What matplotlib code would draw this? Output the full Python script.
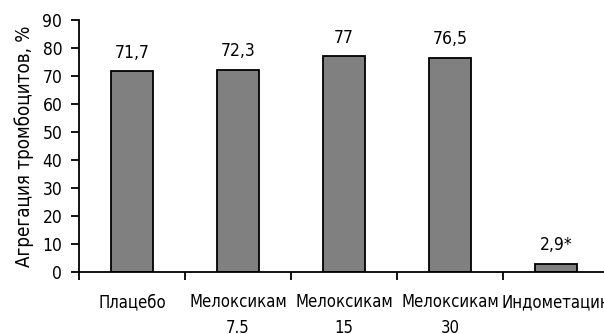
import matplotlib
matplotlib.use('Agg')
import matplotlib.pyplot as plt
import numpy as np

plt.rcParams['font.family'] = ['DejaVu Sans']
plt.rcParams['font.stretch'] = 'condensed'

groups = ['Плацебо', 'Мелоксикам\n7.5', 'Мелоксикам\n15', 'Мелоксикам\n30', 'Индометацин']
values = [71.7, 72.3, 77.0, 76.5, 2.9]
labels = ['71,7', '72,3', '77', '76,5', '2,9*']

fig = plt.figure(figsize=(6.04, 3.34), dpi=100)
ax = fig.add_axes([79/604, 62/334, 530/604, 252/334])

x = np.arange(len(values))
ax.bar(x, values, width=0.4, color='#808080', edgecolor='black', linewidth=1.3)

for xi, v, t in zip(x, values, labels):
    ax.annotate(t, (xi, v), xytext=(0, 7), textcoords='offset points',
                ha='center', va='bottom', fontsize=12.5)

ax.set_xlim(-0.5, len(values) - 0.5)
ax.set_ylim(0, 90)
ax.set_yticks(np.arange(0, 91, 10))
# category borders get the tick marks, names sit in between
ax.set_xticks(np.arange(-0.5, len(values), 1.0))
ax.set_xticklabels([])
ax.set_xticks(x, minor=True)
ax.set_xticklabels(groups, minor=True, fontsize=12, linespacing=1.6)
ax.tick_params(axis='x', which='minor', length=0, pad=15)
ax.tick_params(axis='x', which='major', length=6, width=1.3, direction='out')
ax.tick_params(axis='y', length=6, width=1.3, labelsize=12.5, pad=6)

for side in ['top', 'right']:
    ax.spines[side].set_visible(False)
for side in ['left', 'bottom']:
    ax.spines[side].set_linewidth(1.3)

ax.set_ylabel('Агрегация тромбоцитов, %', fontsize=13.5, labelpad=6)

fig.savefig('out.png', dpi=100)
